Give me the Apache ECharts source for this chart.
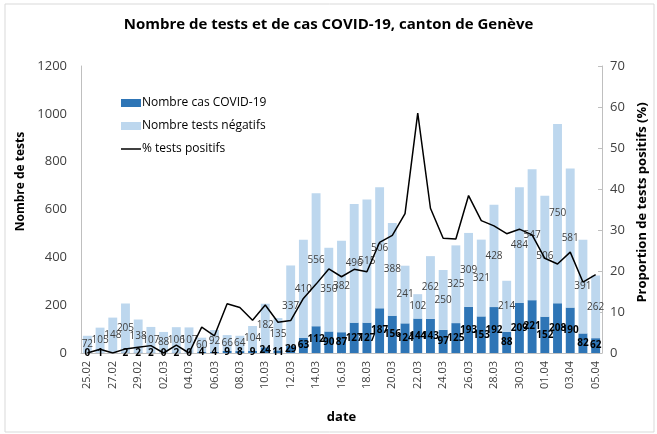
<!DOCTYPE html>
<html>
<head>
<meta charset="utf-8">
<script src="https://cdn.jsdelivr.net/npm/echarts@6/dist/echarts.min.js"></script>
<style>
  html, body { margin: 0; padding: 0; background: #fff; }
  #chart { width: 657px; height: 434px; }
</style>
</head>
<body>
<div id="chart"></div>
<script>
var dates = ['25.02', '26.02', '27.02', '28.02', '29.02', '01.03', '02.03', '03.03', '04.03', '05.03',
    '06.03', '07.03', '08.03', '09.03', '10.03', '11.03', '12.03', '13.03', '14.03', '15.03',
    '16.03', '17.03', '18.03', '19.03', '20.03', '21.03', '22.03', '23.03', '24.03', '25.03',
    '26.03', '27.03', '28.03', '29.03', '30.03', '31.03', '01.04', '02.04', '03.04', '04.04', '05.04'];

var cas = [0, 1, 0, 2, 2, 2, 0, 2, 0, 4,
    4, 9, 8, 9, 24, 11, 29, 63, 112, 90,
    87, 127, 127, 187, 156, 124, 144, 143, 97, 125,
    193, 153, 192, 88, 209, 221, 152, 208, 190, 82, 62];

var negatifs = [72, 105, 148, 205, 138, 107, 88, 106, 107, 60,
    92, 66, 64, 104, 182, 135, 337, 410, 556, 350,
    382, 496, 515, 506, 388, 241, 102, 262, 250, 325,
    309, 321, 428, 214, 484, 547, 506, 750, 581, 391, 262];

var pctPositifs = [0, 0.9, 0, 1.0, 1.4, 1.8, 0, 1.9, 0, 6.3,
    4.2, 12.0, 11.1, 8.0, 11.7, 7.5, 7.9, 13.3, 16.8, 20.5,
    18.6, 20.4, 19.8, 27.0, 28.7, 34.0, 58.5, 35.3, 28.0, 27.8,
    38.4, 32.3, 31.0, 29.1, 30.2, 28.8, 23.1, 21.7, 24.6, 17.3, 19.1];

var font = 'Open Sans';

var casData = cas.map(function (v, i) {
    // le label du 27.02 est caché par la courbe
    if (i === 2) return {value: v, label: {show: false}};
    return v;
});

var myChart = echarts.init(document.getElementById('chart'));
var option = {
    backgroundColor: '#fff',
    animation: false,
    textStyle: {fontFamily: font},
    title: {
        text: 'Nombre de tests et de cas COVID-19, canton de Genève',
        left: 'center',
        top: 12,
        textStyle: {fontSize: 15, fontWeight: 'bold', color: '#000', fontFamily: font}
    },
    graphic: [{
        type: 'rect',
        shape: {x: 5, y: 4, width: 649, height: 428},
        style: {fill: 'none', stroke: '#d9d9d9', lineWidth: 1},
        silent: true,
        z: -1
    }],
    legend: {
        left: 116,
        top: 92,
        orient: 'vertical',
        itemGap: 11,
        itemWidth: 20,
        itemHeight: 8,
        textStyle: {fontSize: 12, color: '#000', fontFamily: font, padding: [0, 0, 0, -4]},
        data: [
            {name: 'Nombre cas COVID-19', icon: 'rect'},
            {name: 'Nombre tests négatifs', icon: 'rect'},
            {name: '% tests positifs', icon: 'path://M0 0h40v3H0z'}
        ]
    },
    grid: {left: 81, right: 44, top: 66, bottom: 81},
    xAxis: {
        type: 'category',
        data: dates,
        name: 'date',
        nameLocation: 'middle',
        nameGap: 58,
        nameTextStyle: {fontSize: 13, fontWeight: 'bold', color: '#000'},
        axisLine: {lineStyle: {color: '#bfbfbf'}},
        axisTick: {interval: 1, lineStyle: {color: '#bfbfbf'}},
        axisLabel: {interval: 1, rotate: 90, fontSize: 11, color: '#404040'}
    },
    yAxis: [{
        type: 'value',
        min: 0,
        max: 1200,
        interval: 200,
        name: 'Nombre de tests',
        nameLocation: 'middle',
        nameGap: 50,
        nameTextStyle: {fontSize: 12, fontWeight: 'bold', color: '#000', padding: [0, 0, 0, 56]},
        axisLine: {show: true, lineStyle: {color: '#bfbfbf'}},
        axisTick: {show: false},
        splitLine: {show: false},
        axisLabel: {fontSize: 13, color: '#404040', margin: 14, formatter: function (v) { return String(v); }}
    }, {
        type: 'value',
        min: 0,
        max: 70,
        interval: 10,
        name: 'Proportion de tests positifs (%)',
        nameLocation: 'middle',
        nameGap: 34,
        nameTextStyle: {fontSize: 13, fontWeight: 'bold', color: '#000', padding: [0, 0, 0, 14]},
        axisLine: {show: true, lineStyle: {color: '#bfbfbf'}},
        axisTick: {show: true, inside: true, length: 4, lineStyle: {color: '#bfbfbf'}},
        splitLine: {show: false},
        axisLabel: {fontSize: 13, color: '#404040', margin: 8}
    }],
    series: [{
        name: 'Nombre cas COVID-19',
        type: 'bar',
        stack: 'tests',
        barWidth: '70%',
        itemStyle: {color: '#2e75b6'},
        label: {show: true, position: 'inside', fontSize: 10, fontWeight: 'bold', color: '#000'},
        data: casData
    }, {
        name: 'Nombre tests négatifs',
        type: 'bar',
        stack: 'tests',
        itemStyle: {color: '#bdd7ee'},
        label: {show: true, position: 'inside', fontSize: 10, color: '#404040'},
        data: negatifs
    }, {
        name: '% tests positifs',
        type: 'line',
        yAxisIndex: 1,
        symbol: 'none',
        lineStyle: {color: '#000', width: 1.5},
        itemStyle: {color: '#000'},
        data: pctPositifs,
        z: 5
    }]
};
myChart.setOption(option);
</script>
</body>
</html>
